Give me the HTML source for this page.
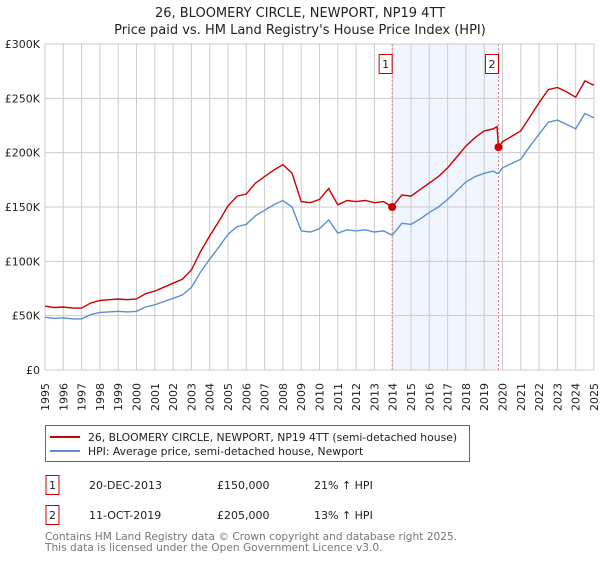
<!DOCTYPE html>
<html><head><meta charset="utf-8"><style>
body{margin:0;background:#fff;font-family:"DejaVu Sans","Liberation Sans",sans-serif;}
svg text{font-family:"DejaVu Sans","Liberation Sans",sans-serif;}
</style></head><body>
<svg id="chart" width="600" height="560" viewBox="0 0 600 560" xmlns="http://www.w3.org/2000/svg">
<text x="300" y="17" text-anchor="middle" font-size="13" fill="#222">26, BLOOMERY CIRCLE, NEWPORT, NP19 4TT</text>
<text x="300" y="34" text-anchor="middle" font-size="13" fill="#222">Price paid vs. HM Land Registry's House Price Index (HPI)</text>
<g id="grid"></g><g id="marks"></g><g id="axes"></g>
<rect x="45.5" y="425.5" width="424" height="36" fill="#fff" stroke="#666"/>
<line x1="50" y1="437" x2="80" y2="437" stroke="#cc0000" stroke-width="2"/>
<text x="88" y="441" font-size="10.8" fill="#222">26, BLOOMERY CIRCLE, NEWPORT, NP19 4TT (semi-detached house)</text>
<line x1="50" y1="451" x2="80" y2="451" stroke="#5b8fd4" stroke-width="2"/>
<text x="88" y="455" font-size="10.8" fill="#222">HPI: Average price, semi-detached house, Newport</text>
<g font-size="11" fill="#222">
<rect x="46" y="475.5" width="13" height="19" fill="#fff" stroke="#cc0000"/>
<text x="52.5" y="489" text-anchor="middle">1</text>
<text x="89" y="489">20-DEC-2013</text><text x="217" y="489">£150,000</text><text x="314" y="489">21% ↑ HPI</text></g>
<g font-size="11" fill="#222">
<rect x="46" y="505.5" width="13" height="19" fill="#fff" stroke="#cc0000"/>
<text x="52.5" y="519" text-anchor="middle">2</text>
<text x="89" y="519">11-OCT-2019</text><text x="217" y="519">£205,000</text><text x="314" y="519">13% ↑ HPI</text></g>
<text x="45" y="540" font-size="10.6" fill="#777">Contains HM Land Registry data © Crown copyright and database right 2025.</text>
<text x="45" y="551" font-size="10.6" fill="#777">This data is licensed under the Open Government Licence v3.0.</text>
</svg>
<script>
const times=[1995,1995.5,1996,1996.5,1997,1997.5,1998,1998.5,1999,1999.5,2000,2000.5,2001,2001.5,2002,2002.5,2003,2003.5,2004,2004.5,2005,2005.5,2006,2006.5,2007,2007.5,2008,2008.5,2009,2009.5,2010,2010.5,2011,2011.5,2012,2012.5,2013,2013.5,2013.97,2014.5,2015,2015.5,2016,2016.5,2017,2017.5,2018,2018.5,2019,2019.5,2019.7,2019.78,2020,2020.5,2021,2021.5,2022,2022.5,2023,2023.5,2024,2024.5,2025];
const hpiValues=[48.5,47.5,48,47,47,51,53,53.5,54,53.5,54,58,60,63,66,69,76,90,102,113,125,132,134,142,147,152,156,150,128,127,130,138,126,129,128,129,127,128,124,135,134,139,145,150,157,165,173,178,181,183,181,181,186,190,194,206,217,228,230,226,222,236,232];
const priceValues=[58.7,57.5,58,57,57,61.7,64,64.7,65.3,64.7,65.3,70.2,72.6,76.2,79.9,83.5,92,109,123.4,136.7,151,160,162,172,178,184,189,181,155,154,157,167,152,156,155,156,154,155,150,161,160,166,172,178,186,196,206,214,220,222,224,205,210,215,220,233,246,258,260,256,251,266,262];
const saleTimes=[2013.97,2019.78];
const saleValues=[150,205];
const saleLabels=["1","2"];
const yTicks=[0,50,100,150,200,250,300];
const yTickLabels=["£0","£50K","£100K","£150K","£200K","£250K","£300K"];
const xTicks=[1995,1996,1997,1998,1999,2000,2001,2002,2003,2004,2005,2006,2007,2008,2009,2010,2011,2012,2013,2014,2015,2016,2017,2018,2019,2020,2021,2022,2023,2024,2025];

const NS="http://www.w3.org/2000/svg";
const X0=45,X1=594,Y0=370,Y1=44;
const xs=t=>X0+(t-1995)/30*(X1-X0);
const ys=v=>Y0-v/300*(Y0-Y1);
function mk(tag,parent,attrs){const e=document.createElementNS(NS,tag);for(const k in attrs)e.setAttribute(k,attrs[k]);parent.appendChild(e);return e;}
const grid=document.getElementById('grid'),marks=document.getElementById('marks'),axes=document.getElementById('axes');
const sh=mk('rect',grid,{x:xs(saleTimes[0]),y:Y1,width:xs(saleTimes[1])-xs(saleTimes[0]),height:Y0-Y1,fill:'#eef3fd',opacity:0.8});


xTicks.forEach(t=>{
 const l=mk('line',grid,{x1:xs(t),x2:xs(t),y1:Y1,y2:Y0,stroke:'#cccccc','stroke-width':1});
 
 
 const tx=mk('text',axes,{transform:`translate(${xs(t)+4},383) rotate(-90)`,'text-anchor':'end','font-size':11,fill:'#222'});
 tx.textContent=t;
 
 
});
yTicks.forEach((v,i)=>{
 const l=mk('line',grid,{x1:X0,x2:X1,y1:ys(v),y2:ys(v),stroke:'#cccccc','stroke-width':1});
 
 
 const tx=mk('text',axes,{x:40,y:ys(v)+4,'text-anchor':'end','font-size':11,fill:'#222'});
 tx.textContent=yTickLabels[i];
 
 
});
saleTimes.forEach((t,i)=>{
 const l=mk('line',marks,{x1:xs(t),x2:xs(t),y1:Y1,y2:Y0,stroke:'#f08080','stroke-dasharray':'2,2','stroke-width':1});
 
 
 const b=mk('rect',marks,{x:xs(t)-13,y:54.5,width:13,height:19,fill:'#fff',stroke:'#cc0000'});
 
 
 const tx=mk('text',marks,{x:xs(t)-6.5,y:68,'text-anchor':'middle','font-size':11,fill:'#222'});
 tx.textContent=saleLabels[i];
 
 
});
const hp=mk('path',marks,{d:times.map((t,i)=>(i?'L':'M')+xs(t).toFixed(1)+','+ys(hpiValues[i]).toFixed(1)).join(''),fill:'none',stroke:'#5b8fd4','stroke-width':1.4});


const pp=mk('path',marks,{d:times.map((t,i)=>(i?'L':'M')+xs(t).toFixed(1)+','+ys(priceValues[i]).toFixed(1)).join(''),fill:'none',stroke:'#cc0000','stroke-width':1.4});


saleTimes.forEach((t,i)=>{
 const c=mk('circle',marks,{cx:xs(t),cy:ys(saleValues[i]),r:4,fill:'#cc0000'});
 
 
});
</script>
</body></html>
